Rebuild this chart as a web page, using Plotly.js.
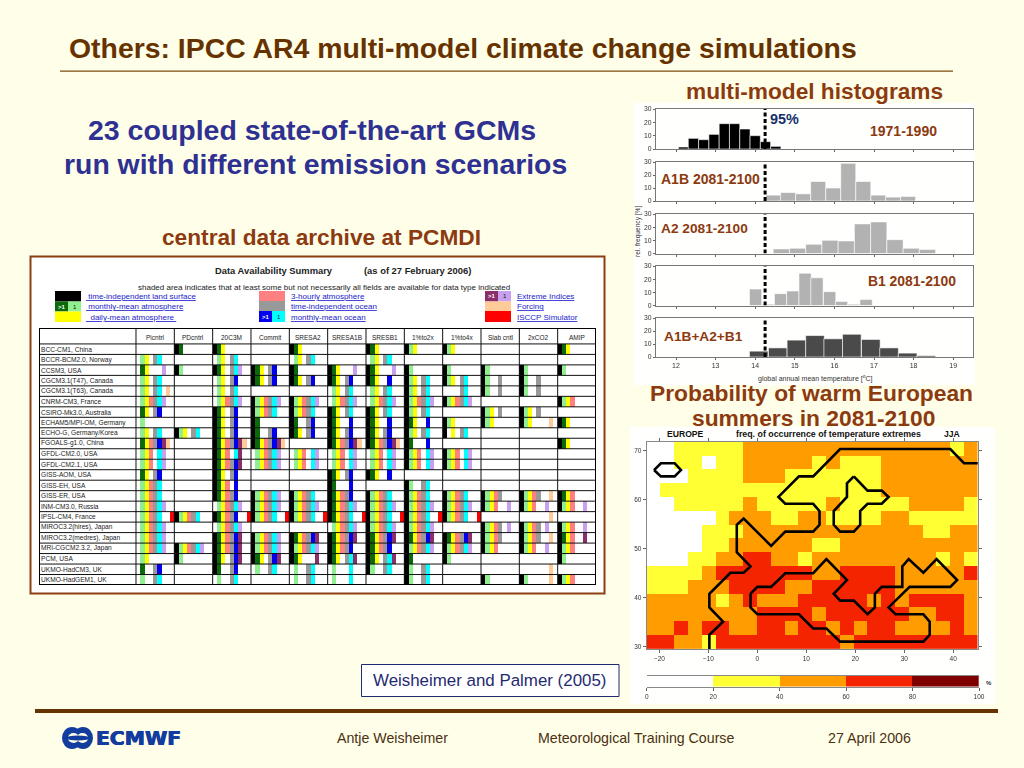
<!DOCTYPE html>
<html><head><meta charset="utf-8">
<script src="https://cdn.plot.ly/plotly-3.0.1.min.js"></script>
<style>html,body{margin:0;padding:0;background:#FFFEE9;}#g{width:1024px;height:768px;}
.cartesianlayer .subplot{filter:blur(0.4px);}</style>
</head><body><div id="g"></div>
<script>
// ---------- data: availability table ----------
const modelNames = ["BCC-CM1, China","BCCR-BCM2.0, Norway","CCSM3, USA","CGCM3.1(T47), Canada","CGCM3.1(T63), Canada","CNRM-CM3, France","CSIRO-Mk3.0, Australia","ECHAM5/MPI-OM, Germany","ECHO-G, Germany/Korea","FGOALS-g1.0, China","GFDL-CM2.0, USA","GFDL-CM2.1, USA","GISS-AOM, USA","GISS-EH, USA","GISS-ER, USA","INM-CM3.0, Russia","IPSL-CM4, France","MIROC3.2(hires), Japan","MIROC3.2(medres), Japan","MRI-CGCM2.3.2, Japan","PCM, USA","UKMO-HadCM3, UK","UKMO-HadGEM1, UK"];
const experiments = ["Picntrl","PDcntrl","20C3M","Commit","SRESA2","SRESA1B","SRESB1","1%to2x","1%to4x","Slab cntl","2xCO2","AMIP"];
// slot order: K land, g/G monthly atm, y daily atm, s 3-hourly, a ocean fixed, c/B monthly ocean, v/P extremes, f forcing, r ISCCP
const cPicntrl = ["",".gy.ac",".Gy...v",".gy.ac",".gy.ac.f",".gysacv",".Gy.aB",".g",".gy.ac",".GysaBPf",".gys.cv",".gys.cv",".Gy.aB",".gysac",".gysac",".gysacv",".gysac..r",".gysacv",".gysacv",".gysacv",".gy",".G..aB",".g..ac"];
const cPDcntrl = ["KG","","Kg","","","","","","Kgy.ac","","","","","","","","Kgysac","","","Kgysacv","Kg","",""];
const c20C3M = ["KGy",".gy.ac","KGy.acv",".gy.aB",".gy.ac",".gysacv","KGy.aB","KGy.aB","KGy.aB","KGysaBPf","KGys.cP","KGysaBP","KGy.aB","KGys.B","KGysaB",".gysacv","KGysaB..r",".gysacv","KGysaBP","KGysaBP","KGy.aBP","KG..aB",".g..ac"];
const cCommit = ["","","KGy.aB","KGy.aB","","Kgysacv","Kgysac","KG","KG..aB","KGysaBPf",".gysacv",".gysacv","","","Kgysacv","Kgysacv","Kgysac..r","","Kgysacv","Kgysacv","KGy.aBP",".g..ac",""];
const cSRESA2 = ["KGy",".gy.ac","KG","KGy.aB","","Kgysacv","Kgysac","KG..aB","KGy.aB","",".gys.cv",".gys.cv","","","Kgysac","Kgysacv","Kgysac..r","","KGysaBP","Kgysacv","KGy...P",".g..ac",".g..ac"];
const cSRESA1B = ["","","KGy...v","KGy.aB",".gy.ac",".gysacv","KGy.ac","KGy..B","KGy.aB","KGysaBPf",".gys.cv",".gys.cv","KGy.aB","KG...B","KGysaB","KGysacv","KGysac..r",".gysacv","KGysaBP","KGysaB","KGy.acP",".g...c",".g...c"];
const cSRESB1 = ["KGy",".gy.ac","KGy...v","KGy..B",".gy.ac",".gysacv","KGy.ac","KGy..B","KGy.aB","KGysaBPf",".gys.cv",".gys.cv","KGy..B","","Kgysac","Kgysacv","Kgysac..r","Kgysacv","KGysaBP","KGysaB","KGy.acP","Kg..ac",""];
const c1to2x = ["Kgy","","Kg","Kgy.ac","Kgy.ac","Kgysacv","Kgy.ac","KGy..B","Kgy.ac","KG...B","Kgys.cv","Kgys.cv","","Kg..ac","Kgysac","Kgysacv","Kgysac..r","Kgysacv","KGysaBP","Kgysacv","KG","Kg..ac","Kg..ac"];
const c1to4x = ["Kgy","","Kg","Kgy.ac","....ac","Kgysacv","","Kgy","K.y.ac","","Kgys.cv","Kgys.cv","","","Kgysac","Kgysacv","Kgysac..r","","KGysaBP","Kgysacv","Kg","",""];
const cSlab = ["","","Kg","Kg..a","Kg..a","","Kgy.a","Kgy","","","","","","","Kgysa","Kgys..v","","Kgysa.v","Kgysa","Kgys","","","Kg"];
const c2xCO2 = ["","","Kg","Kg..a","Kg..a","","Kgy.a","Kgy....f","","","","","","","Kgysa..f","Kgys..v",".......f","Kgysa.v","Kgysa..f","Kgys..v","",".......f","Kg.....f"];
const cAMIP = ["KGy","","Kg","","","Kgys","","KGy","","KGy","","","","","KGys","Kgys..v","","Kgys..v","KGys..P","Kgys","Kg","","Kgys"];
const tableColumns = [cPicntrl,cPDcntrl,c20C3M,cCommit,cSRESA2,cSRESA1B,cSRESB1,c1to2x,c1to4x,cSlab,c2xCO2,cAMIP];
const slotCodes = ".KGgysaBcPvfr";
const slotColors = ["#FFFFFF","#000000","#0A6A0A","#90F090","#FFFF00","#FF8080","#999999","#0000EE","#00FFFF","#8B2F6B","#C9A0F0","#FFCC99","#FF0000"];

// ---------- data: histograms ----------
const tHist0 = [12.19,12.44,12.70,12.96,13.22,13.48,13.74,14.00,14.26,14.52];
const fHist0 = [1.5,8,7,11,19,19,15,10,5.5,2];
const tHistA1B = [14.46,14.83,15.21,15.59,15.97,16.35,16.73,17.11,17.48,17.86];
const fHistA1B = [4.5,6.5,5.5,15,10,29,15,4.5,3,3.5];
const tHistA2 = [14.66,15.07,15.48,15.89,16.30,16.71,17.12,17.53,17.94,18.35];
const fHistA2 = [3.5,4,7,10,9.5,22.5,24,10.5,4,3];
const tHistB1 = [14.01,14.33,14.64,14.95,15.26,15.56,15.88,16.18,16.49,16.80];
const fHistB1 = [12.5,1,9,11,24.5,21,10.5,3,1,4.5];
const tHistAll = [14.09,14.57,15.04,15.51,15.97,16.44,16.92,17.38,17.85,18.32];
const fHistAll = [4.5,7,13,16.5,14,17.5,13.5,7,3,1];
const threshold95 = 14.25;

// ---------- data: European map (class per cell, north row first; 0 <20, 1 20-40, 2 40-60, 3 60-80) ----------
const mapRows = [
"001111122222222222222212",
"001101122222121112222222",
"000111122211111112222222",
"011111111111111112222222",
"001111121111121111122221",
"000001222112211112211111",
"000011122222222222221122",
"000011222222112222222222",
"000112233221222222222121",
"111123333333223333222223",
"111222333322333333222222",
"222221232223333323233332",
"222222223333233333322332",
"223233223323323233222232",
"332213333333332333333333"];
const coastLon1 = [-21.1,-19.7,-16.9,-15.6,-16.9,-19.7,-21.1];
const coastLat1 = [66.1,67.5,67.5,66.1,64.8,64.8,66.1];
const coastLon2 = [45.1,42.2,39.4,16.9,11.4,8.5,4.3,5.7,11.4,12.7,12.7,11.4,5.7,2.8,-2.8,-4.2,-4.2,-1.4,-2.8,-5.5,-9.8,-9.8,-7.0,-9.8,-9.8];
const coastLat2 = [67.5,67.5,70.4,70.4,64.8,64.8,60.6,59.2,59.2,57.7,54.9,53.5,53.5,50.6,56.2,54.9,49.3,46.4,45.1,45.1,40.8,38,35.1,32.4,29.5];
const coastLon3 = [19.7,18.3,18.3,15.6,15.6,16.9,19.7,21,21,22.5,25.4,26.8,25.4,22.5,19.7];
const coastLat3 = [64.8,63.4,60.6,57.7,54.9,53.5,53.5,54.9,57.7,59.2,59.2,60.6,61.9,61.9,64.8];
const coastLon4 = [-1.4,0,2.8,5.7,11.4,14.1,18.3,15.6,16.9,19.7,22.5,24,24,25.4,29.6,29.6,30.9,33.9,36.6,40.8,39.4,31.1,26.8,28.2,33.9,35.2,35.2,33.9,16.9,14.1,11.4,8.5,0,-1.4,-1.4];
const coastLat4 = [40.8,42.2,42.2,45,45,47.9,43.6,40.8,39.4,39.4,36.6,38,40.8,42.2,42.2,46.4,47.9,45.1,47.9,43.6,42.2,42.2,38,36.6,36.6,35.1,32.4,31,31,33.7,33.7,36.6,36.6,38,40.8];
const scaleEdges = [0,20,40,60,80,100];
const scaleMid = [10,30,50,70,90];
const mapColors = ["#FFFFFF","#FFFF33","#FF9C00","#F42400","#800000"];

// ---------- page helpers ----------
const W=1024,H=768;
const dx=(a,b)=>[a/W,b/W], dy=(a,b)=>[1-b/H,1-a/H];
const px=x=>x/W, py=y=>1-y/H;
const BROWN="#8C3A10", DARK="#663300", NAVY="#2E3192", SERIF="Liberation Sans";
const ann=[], shp=[];
function T(x,y,t,s,c,o={}){ann.push(Object.assign({xref:'paper',yref:'paper',x:px(x),y:py(y),text:t,showarrow:false,xanchor:o.a||'left',yanchor:'middle',borderpad:0,
  font:Object.assign({family:o.fam||SERIF,size:s,color:c},o.font||{}),textangle:o.rot||0},o.extra||{}));}
function R(x0,y0,x1,y1,fill,line,lw){shp.push({type:'rect',xref:'paper',yref:'paper',x0:px(x0),x1:px(x1),y0:py(y0),y1:py(y1),fillcolor:fill,line:{color:line||fill,width:lw===undefined?0:lw},layer:'below'});}
function E(x0,y0,x1,y1,fill){shp.push({type:'circle',xref:'paper',yref:'paper',x0:px(x0),x1:px(x1),y0:py(y0),y1:py(y1),fillcolor:fill,line:{width:0},layer:'above'});}

// slide furniture
R(60,70.5,953,71.7,"#7A4A10");
R(35,709,998,713,"#663300");
R(634,103,975,385,"#FFFFFD");
R(630,427,995,704,"#FFFFFD");
R(30.5,256.5,604.5,593.5,"#FFFFFF","#8C3F12",2);
R(361.5,664.5,619,696.5,"#FFFFFF","#1F2A70",1);

T(68,48,"<b>Others: IPCC AR4 multi-model climate change simulations</b>",28.4,DARK);
T(685,91,"<b>multi-model histograms</b>",22.7,BROWN);
T(311.5,130,"<b>23 coupled state-of-the-art GCMs</b>",28.5,NAVY,{a:'center'});
T(315.5,164,"<b>run with different emission scenarios</b>",28.4,NAVY,{a:'center'});
T(321.5,237,"<b>central data archive at PCMDI</b>",22.7,BROWN,{a:'center'});
T(811,393,"<b>Probability of warm European</b>",22.8,BROWN,{a:'center'});
T(813.5,418,"<b>summers in 2081-2100</b>",22.8,BROWN,{a:'center'});
T(489,680,"Weisheimer and Palmer (2005)",16.9,"#1F2A70",{a:'center'});
T(336,738,"Antje Weisheimer",14.2,"#4A3010");
T(537,738,"Meteorological Training Course",14.2,"#4A3010");
T(827,738,"27 April 2006",14.2,"#4A3010");

// table heading + legend
T(214,271,"<b>Data Availability Summary</b>",9.4,"#222");
T(363,271,"<b>(as of 27 February 2006)</b>",9.4,"#222");
T(137,287,"shaded area indicates that at least some but not necessarily all fields are available for data type indicated",8,"#222");
R(55,291,81,301.5,"#000000");R(55,301.5,68,311.5,"#0A6A0A");R(68,301.5,81,311.5,"#90F090");R(55,311.5,81,322,"#FFFF00");
R(259,291,285,301,"#FF8080");R(259,301,285,311,"#999999");R(259,311,272,322,"#0000EE");R(272,311,285,322,"#00FFFF");
R(485,291,498,301.5,"#8B2F6B");R(498,291,511,301.5,"#C9A0F0");R(485,301.5,511,311,"#FFCC99");R(485,311,511,322,"#FF0000");
const UL={font:{lineposition:'under'}};
T(61.5,306.5,"<b>&gt;1</b>",6,"#fff",{a:'center'});T(74.5,306.5,"1",6,"#111",{a:'center'});
T(265.5,316.5,"<b>&gt;1</b>",6,"#fff",{a:'center'});T(278.5,316.5,"1",6,"#111",{a:'center'});
T(491.5,296.5,"<b>&gt;1</b>",6,"#fff",{a:'center'});T(504.5,296.5,"1",6,"#111",{a:'center'});
[[85,296.5," time-independent land surface"],[85,306.5," monthly-mean atmosphere"],[85,317,"  daily-mean atmosphere "],
 [290,296.5,"3-hourly atmosphere"],[290,306.5,"time-independent ocean"],[290,317,"monthly-mean ocean"],
 [516,296.5,"Extreme Indices"],[516,306.5,"Forcing"],[516,317,"ISCCP Simulator"]].forEach(a=>T(a[0],a[1],a[2],8,"#1A1ACC",UL));

// hist labels
T(769,119,"<b>95%</b>",14.4,"#15306A");
T(869,131,"<b>1971-1990</b>",14,BROWN);
T(660,179,"<b>A1B 2081-2100</b>",14,BROWN);
T(660,229,"<b>A2 2081-2100</b>",13.7,BROWN);
T(867,281,"<b>B1 2081-2100</b>",13.9,BROWN);
T(663,336,"<b>A1B+A2+B1</b>",13.7,BROWN);
T(638,232,"rel. frequency [%]",6.6,"#333",{a:'center',rot:-90});
T(815,378,"global annual mean temperature [<sup>o</sup>C]",7,"#333",{a:'center'});

// map heading
T(666,434,"<b>EUROPE</b>",8.6,"#111");
T(735,434,"<b>freq. of occurrence of temperature extremes</b>",8.8,"#111");
T(943,434,"<b>JJA</b>",8.6,"#111");
T(989,683,"<b>%</b>",6,"#333",{a:'center'});

// logo
const LOGO="#123C9E";
E(62,727,82,749,LOGO);E(73,727,93,749,LOGO);
E(68,733,79,743,"#FFFEE9");E(77,733,88,743,"#FFFEE9");
E(66,735.5,90,740.5,LOGO);
T(95,738,"<b>ECMWF</b>",20.3,LOGO,{fam:"DejaVu Sans",font:{shadow:"0.5px 0 0 #123C9E, -0.5px 0 0 #123C9E"}});

// ---------- traces ----------
const traces=[];
// table body
const z=modelNames.map((_,r)=>{const row=[];tableColumns.forEach(col=>{const s=col[r].padEnd(9,'.');for(const ch of s)row.push(slotCodes.indexOf(ch));});return row;});
const disc=(cols)=>{const out=[];cols.forEach((c,i)=>{out.push([i/cols.length,c]);out.push([(i+1)/cols.length,c]);});return out;};
traces.push({type:'heatmap',xaxis:'x',yaxis:'y',z:z,x0:0.5,dx:1,y0:0.5,dy:1,zmin:-0.5,zmax:slotColors.length-0.5,colorscale:disc(slotColors),showscale:false,hoverinfo:'skip'});
// table rules
const hx=[],hy=[],vx=[],vy=[];
for(let r=0;r<=23;r++){hx.push(-22.77,108,null);hy.push(r,r,null);}
for(let c=0;c<=12;c++){vx.push(c*9,c*9,null);vy.push(-1.52,23,null);}
traces.push({type:'scatter',mode:'lines',xaxis:'x',yaxis:'y',x:hx,y:hy,line:{color:'#111',width:1},hoverinfo:'skip'});
traces.push({type:'scatter',mode:'lines',xaxis:'x',yaxis:'y',x:vx,y:vy,line:{color:'#111',width:1},hoverinfo:'skip'});
traces.push({type:'scatter',mode:'lines',xaxis:'x',yaxis:'y',x:[-22.77,108,108,-22.77,-22.77],y:[-1.52,-1.52,23,23,-1.52],line:{color:'#000',width:2},hoverinfo:'skip'});
modelNames.forEach((n,i)=>ann.push({xref:'x',yref:'y',x:-22.6,y:i+0.5,text:n,showarrow:false,xanchor:'left',yanchor:'middle',borderpad:0,font:{family:SERIF,size:6.6,color:'#222'}}));
experiments.forEach((n,i)=>ann.push({xref:'x',yref:'y',x:i*9+4.5,y:-0.6,text:n,showarrow:false,xanchor:'center',yanchor:'middle',borderpad:0,font:{family:SERIF,size:6.5,color:'#222'}}));

// map
traces.push({type:'heatmap',xaxis:'x2',yaxis:'y2',z:mapRows.map(s=>s.split('').map(Number)).reverse(),x0:-21.19,dx:2.82,y0:30.91,dy:2.825,zmin:-0.5,zmax:4.5,colorscale:disc(mapColors),showscale:false,hoverinfo:'skip'});
[[coastLon1,coastLat1],[coastLon2,coastLat2],[coastLon3,coastLat3],[coastLon4,coastLat4]].forEach(p=>
  traces.push({type:'scatter',mode:'lines',xaxis:'x2',yaxis:'y2',x:p[0],y:p[1],line:{color:'#000',width:2.6},hoverinfo:'skip'}));
// colour scale
traces.push({type:'heatmap',xaxis:'x3',yaxis:'y3',z:[[0,1,2,3,4]],x:scaleMid,y:[0],zmin:-0.5,zmax:4.5,colorscale:disc(mapColors),showscale:false,hoverinfo:'skip'});
// histograms
const hists=[[tHist0,fHist0,0.26,'#000000'],[tHistA1B,fHistA1B,0.379,'#B2B2B2'],[tHistA2,fHistA2,0.41,'#B2B2B2'],[tHistB1,fHistB1,0.31,'#B2B2B2'],[tHistAll,fHistAll,0.47,'#4A4A4A']];
hists.forEach((h,i)=>{const a=i+4;
  traces.push({type:'bar',xaxis:'x'+a,yaxis:'y'+a,x:h[0],y:h[1],width:h[2],marker:{color:h[3],line:{color:'#FFFFFF',width:0.6}},hoverinfo:'skip'});
  traces.push({type:'scatter',mode:'lines',xaxis:'x'+a,yaxis:'y'+a,x:[threshold95,threshold95],y:[0,30],line:{color:'#000',width:3,dash:'4px,2.5px'},hoverinfo:'skip'});
});

// ---------- layout ----------
const layout={width:W,height:H,margin:{l:0,r:0,t:0,b:0},paper_bgcolor:"#FFFEE9",plot_bgcolor:"#FFFFFF",showlegend:false,barmode:'overlay',annotations:ann,shapes:shp,
  font:{family:SERIF},
  xaxis:{domain:dx(39,596),range:[-22.77,108],visible:false},
  yaxis:{domain:dy(328,585),range:[23,-1.52],visible:false},
  xaxis2:{domain:dx(646.7,977.7),range:[-22.6,45],anchor:'y2',tickvals:[-20,-10,0,10,20,30,40],ticktext:["\u221220","\u221210","0","10","20","30","40"],ticks:'outside',ticklen:3,tickcolor:'#666',tickfont:{size:6.5,color:'#333'},showline:true,mirror:'ticks',linecolor:'#888',linewidth:1,showgrid:false,zeroline:false},
  yaxis2:{domain:dy(441.7,649),range:[29.5,71.9],anchor:'x2',tickvals:[30,40,50,60,70],ticks:'outside',ticklen:3,tickcolor:'#666',tickfont:{size:6.5,color:'#333'},showline:true,mirror:'ticks',linecolor:'#888',linewidth:1,showgrid:false,zeroline:false},
  xaxis3:{domain:dx(646.7,979),range:[0,100],anchor:'y3',tickvals:scaleEdges,ticks:'outside',ticklen:3,tickcolor:'#666',tickfont:{size:6.5,color:'#333'},showline:true,mirror:true,linecolor:'#888',linewidth:1,showgrid:false,zeroline:false},
  yaxis3:{domain:dy(675.7,686.7),range:[-0.5,0.5],anchor:'x3',visible:false}
};
const panels=[[109,149],[162,201],[214,253.5],[266,305.5],[318,357]];
panels.forEach((p,i)=>{const a=i+4,last=i===4;
  layout['xaxis'+a]={domain:dx(656,973),range:[11.495,19.5],anchor:'y'+a,tickvals:[12,13,14,15,16,17,18,19],ticks:'outside',ticklen:2,tickcolor:'#666',showticklabels:last,tickfont:{size:7,color:'#333'},showline:true,mirror:true,linecolor:'#777',linewidth:1,showgrid:false,zeroline:false};
  layout['yaxis'+a]={domain:dy(p[0],p[1]),range:[0,30],anchor:'x'+a,tickvals:[0,10,20,30],ticks:'outside',ticklen:2,tickcolor:'#666',tickfont:{size:6.8,color:'#333'},showline:true,mirror:true,linecolor:'#777',linewidth:1,showgrid:false,zeroline:false};
});
Plotly.newPlot('g',traces,layout,{displayModeBar:false,staticPlot:true});
</script></body></html>
